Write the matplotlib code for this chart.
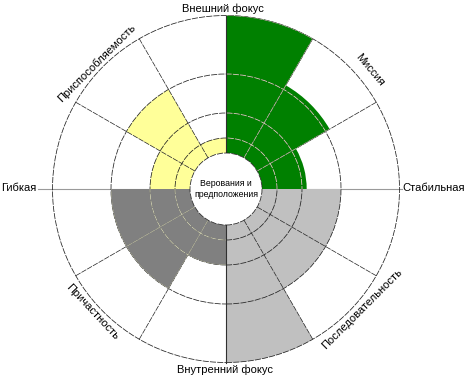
import numpy as np
import matplotlib
matplotlib.use('Agg')
import matplotlib.pyplot as plt
from matplotlib.patches import Wedge, Circle

plt.rcParams['font.family'] = ['Liberation Sans', 'DejaVu Sans']

# percentiles of the three indexes per trait, counter-clockwise from the trait's start angle
traits = ['Миссия', 'Приспособляемость', 'Причастность', 'Последовательность']
trait_start = [0, 90, 180, 270]
trait_colors = ['#008000', '#FFFF99', '#808080', '#C0C0C0']
mission = [53, 77, 100]
adaptability = [25, 75, 50]
involvement = [75, 75, 50]
consistency = [100, 75, 75]

axis_labels = ['Стабильная', 'Внешний фокус', 'Гибкая', 'Внутренний фокус']
center_label = 'Верования и\nпредположения'

# percentile -> radius (rings are not evenly spaced)
ring_pct = [0, 25, 50, 75, 100]
ring_radius = [36, 51, 76, 115, 173.5]
R_IN = ring_radius[0]
R_OUT = ring_radius[-1]


def pct_to_r(p):
    return np.interp(p, ring_pct, ring_radius)


def draw_grid(ax, color, ls, clip=None):
    arts = []
    for r in ring_radius[1:]:
        c = Circle((0, 0), r, fill=False, ec=color, lw=0.55, ls=ls, zorder=3)
        ax.add_patch(c)
        arts.append(c)
    for a in range(30, 360, 30):
        if a % 90 == 0:
            continue
        t = np.deg2rad(a)
        ln, = ax.plot([R_IN * np.cos(t), R_OUT * np.cos(t)],
                      [R_IN * np.sin(t), R_OUT * np.sin(t)],
                      color=color, lw=0.5, ls=ls, zorder=3)
        arts.append(ln)
    if clip is not None:
        for art in arts:
            art.set_clip_path(clip)


fig = plt.figure(figsize=(4.71, 3.84), dpi=100)
ax = fig.add_axes([0, 0, 1, 1])
ax.set_xlim(-226, 245)
ax.set_ylim(-195, 189)
ax.set_aspect('equal')
ax.axis('off')

# horizontal axis line behind the sectors
ax.plot([-188, 176], [0, 0], color='#9a9a9a', lw=0.8, zorder=0.5)

wedges = []
for start, values, color in zip(trait_start, [mission, adaptability, involvement, consistency], trait_colors):
    for i, v in enumerate(values):
        w = Wedge((0, 0), pct_to_r(v), start + 30 * i, start + 30 * (i + 1),
                  width=pct_to_r(v) - R_IN, fc=color, ec='none', zorder=1)
        ax.add_patch(w)
        wedges.append((w, color))

draw_grid(ax, '#202020', (0, (8, 1.5)))

# lighter grid lines inside the dark sectors
for w, color in wedges:
    if color in ('#008000', '#808080'):
        draw_grid(ax, '#e8e8c8', (0, (8, 1.5)), clip=w)

# vertical axis line
ax.plot([0, 0], [-R_OUT, R_OUT], color='#303030', lw=0.8, zorder=3.5)

# center circle
ax.add_patch(Circle((0, 0), R_IN, fc='white', ec='#202020', lw=0.55,
                    ls=(0, (8, 1.5)), zorder=4))
ax.text(0, 0, center_label, ha='center', va='center', fontsize=6.3,
        linespacing=1.3, zorder=5)

# axis labels
ax.text(-3.5, 180.5, axis_labels[1], ha='center', va='center', fontsize=8)
ax.text(-1, -181, axis_labels[3], ha='center', va='center', fontsize=8)
ax.text(-225, 1, axis_labels[2], ha='left', va='center', fontsize=8)
ax.text(176, 1, axis_labels[0], ha='left', va='center', fontsize=8)

# trait labels along the outer circle
trait_pos = [(144, 119, -50), (-129, 126, 45), (-134, -123, -47), (136, -120, 45)]
for name, (x, y, rot) in zip(traits, trait_pos):
    ax.text(x, y, name, ha='center', va='center', fontsize=8,
            rotation=rot, rotation_mode='anchor')

fig.savefig('out.png', dpi=100)
